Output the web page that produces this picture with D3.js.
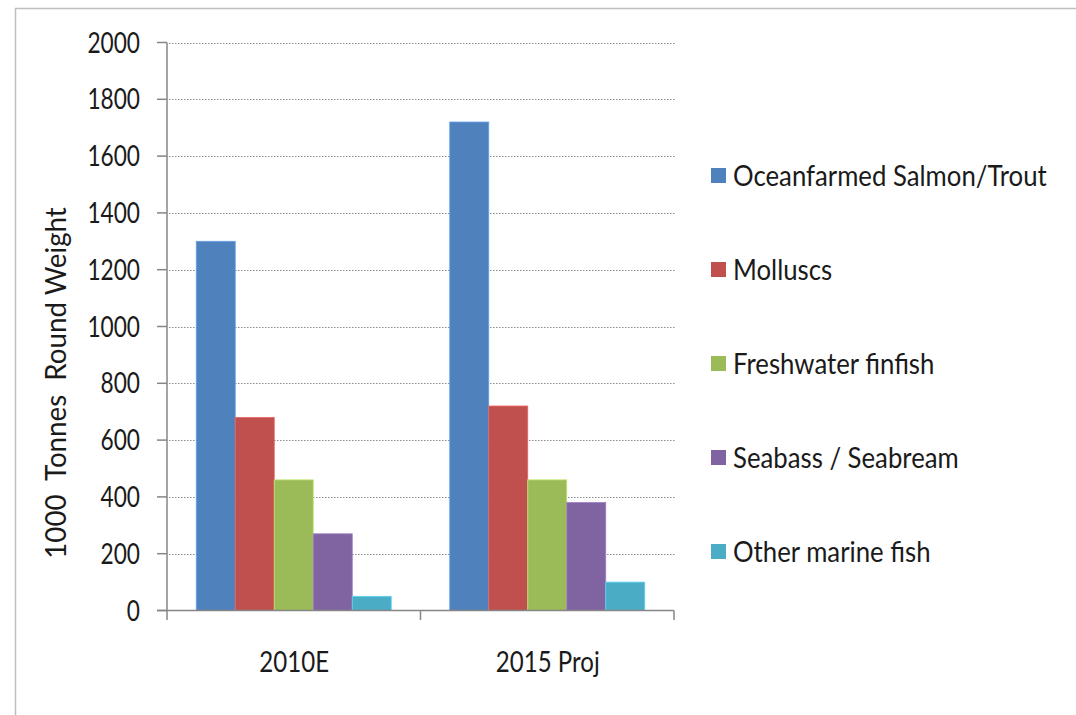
<!DOCTYPE html>
<html><head><meta charset="utf-8">
<script src="https://cdn.jsdelivr.net/npm/d3@7"></script>
<style>body{margin:0;background:#fff;} text{font-family:Lato, "Open Sans", sans-serif; fill:#1a1a1a;}</style>
</head><body>
<svg id="c" width="1076" height="715"></svg>
<script>
const categories = ["2010E", "2015 Proj"];
const seriesNames = ["Oceanfarmed Salmon/Trout", "Molluscs", "Freshwater finfish", "Seabass / Seabream", "Other marine fish"];
const salmon = [1300, 1720];
const molluscs = [680, 720];
const freshwater = [460, 460];
const seabass = [270, 380];
const otherMarine = [50, 100];
const yTicks = [0, 200, 400, 600, 800, 1000, 1200, 1400, 1600, 1800, 2000];
const colors = ["#4f81bd", "#c0504d", "#9bbb59", "#8064a2", "#4bacc6"];

const seriesValues = [salmon, molluscs, freshwater, seabass, otherMarine];
const svg = d3.select("#c");
const FS = 28;

function stext(g, x, y, str, anchor, sx, rot) {
  return g.append("text")
    .attr("transform", `translate(${x},${y})` + (rot ? ` rotate(${rot})` : "") + ` scale(${sx},1)`)
    .attr("text-anchor", anchor)
    .style("font-size", FS + "px")
    .text(str);
}

// frame
svg.append("path").attr("d", "M15.5,715 L15.5,8.5 L1076,8.5").attr("fill", "none").attr("stroke", "#bfbfbf").attr("stroke-width", 1.5);

const x0 = 167, x1 = 674;
const y = d3.scaleLinear().domain([0, 2000]).range([610.5, 42.5]);
const xb = d3.scaleBand().domain(categories).range([x0, x1]);
const barW = 39;
const outer = (xb.bandwidth() - barW * seriesNames.length) / 2;

// gridlines
svg.append("g").selectAll("line").data(yTicks.filter(d => d > 0)).join("line")
  .attr("x1", x0 + 2).attr("x2", 676)
  .attr("y1", d => Math.round(y(d)) + 0.5).attr("y2", d => Math.round(y(d)) + 0.5)
  .attr("stroke", "#8a8a8a").attr("stroke-width", 1).attr("stroke-dasharray", "1.5,1.5");

// bars
const g = svg.append("g");
seriesValues.forEach((vals, si) => {
  g.append("g").selectAll("rect").data(vals).join("rect")
    .attr("x", (d, ci) => xb(categories[ci]) + outer + si * barW)
    .attr("y", d => y(d))
    .attr("width", barW)
    .attr("height", d => y(0) - y(d))
    .attr("fill", colors[si])
    .attr("stroke", d3.color(colors[si]).brighter(0.6))
    .attr("stroke-width", 0.8);
});

// axes
const axisColor = "#868686";
svg.append("line").attr("x1", x0).attr("x2", x0).attr("y1", y(2000)).attr("y2", y(0)).attr("stroke", axisColor).attr("stroke-width", 1.5);
svg.append("g").selectAll("line").data(yTicks).join("line")
  .attr("x1", 157).attr("x2", x0).attr("y1", d => y(d)).attr("y2", d => y(d))
  .attr("stroke", axisColor).attr("stroke-width", 1.5);
svg.append("line").attr("x1", 157).attr("x2", x1).attr("y1", y(0)).attr("y2", y(0)).attr("stroke", axisColor).attr("stroke-width", 1.5);
svg.append("g").selectAll("line").data([x0, xb(categories[1]), x1]).join("line")
  .attr("x1", d => d).attr("x2", d => d).attr("y1", y(0)).attr("y2", 620)
  .attr("stroke", axisColor).attr("stroke-width", 1.5);

// tick labels
const tl = svg.append("g");
yTicks.forEach(t => stext(tl, 140, y(t) + 10, String(t), "end", 0.81));
categories.forEach(c => stext(tl, xb(c) + xb.bandwidth() / 2 + 0.5, 672, c, "middle", 0.86));

// y title
stext(svg.append("g"), 66, 383, "1000\u00a0\u00a0Tonnes\u00a0\u00a0Round Weight", "middle", 0.99, -90);

// legend
const lg = svg.append("g");
const ly = d3.scalePoint().domain(seriesNames).range([175.5, 551.5]);
seriesNames.forEach((n, i) => {
  lg.append("rect").attr("x", 711).attr("y", ly(n) - 7.5).attr("width", 15).attr("height", 15).attr("fill", colors[i]);
  stext(lg, 733, ly(n) + 10, n, "start", 0.92);
});
</script>
</body></html>
